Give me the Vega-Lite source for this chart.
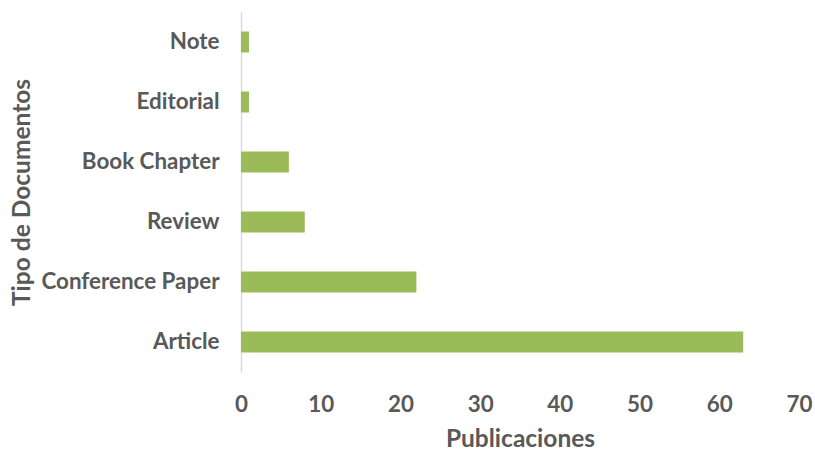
{
  "$schema": "https://vega.github.io/schema/vega-lite/v6.json",
  "width": 558,
  "height": 360,
  "autosize": {"type": "none"},
  "padding": {"left": 241, "top": 12, "right": 16, "bottom": 79},
  "background": "white",
  "data": {"values": [
    {"tipo": "Note", "n": 1},
    {"tipo": "Editorial", "n": 1},
    {"tipo": "Book Chapter", "n": 6},
    {"tipo": "Review", "n": 8},
    {"tipo": "Conference Paper", "n": 22},
    {"tipo": "Article", "n": 63}
  ]},
  "mark": {"type": "bar", "color": "#9BBB59"},
  "encoding": {
    "y": {
      "field": "tipo", "type": "nominal",
      "sort": ["Note", "Editorial", "Book Chapter", "Review", "Conference Paper", "Article"],
      "scale": {"paddingInner": 0.65, "paddingOuter": 0.325},
      "axis": {
        "title": "Tipo de Documentos",
        "ticks": false,
        "domainColor": "#d9d9d9",
        "domainWidth": 1.5,
        "labelPadding": 22,
        "titlePadding": 7
      }
    },
    "x": {
      "field": "n", "type": "quantitative",
      "scale": {"domain": [0, 70], "nice": false},
      "axis": {
        "title": "Publicaciones",
        "values": [0, 10, 20, 30, 40, 50, 60, 70],
        "grid": false,
        "domain": false,
        "ticks": false,
        "labelFlush": false,
        "labelPadding": 21,
        "titlePadding": 12
      }
    }
  },
  "config": {
    "view": {"stroke": null},
    "axis": {
      "labelFont": "Lato",
      "labelFontWeight": "bold",
      "labelFontSize": 22.4,
      "labelColor": "#595959",
      "titleFont": "Lato",
      "titleFontWeight": "bold",
      "titleFontSize": 24.5,
      "titleColor": "#595959"
    }
  }
}
